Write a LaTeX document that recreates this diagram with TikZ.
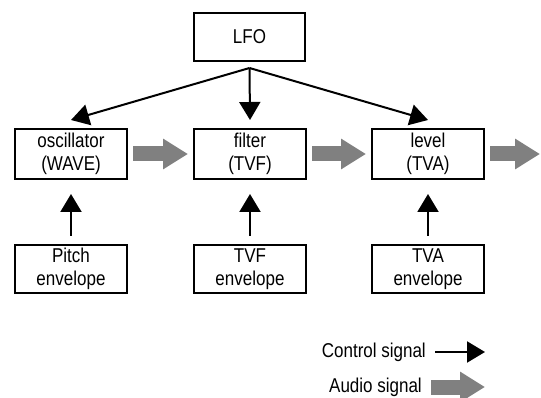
\documentclass[tikz,border=0pt]{standalone}
\usepackage{fontspec}
\setmainfont{Liberation Sans}[FakeStretch=0.85]
\usetikzlibrary{arrows.meta,positioning}
\definecolor{audiogray}{HTML}{808080}

\begin{document}
\begin{tikzpicture}[x=1pt, y=1pt,
    font=\fontsize{20}{23}\selectfont,
    blk/.style={draw=black, line width=2pt, fill=white, align=center,
      minimum width=112pt, minimum height=50pt, inner sep=2pt},
    env/.style={blk, minimum height=48pt},
    ctrl/.style={-{Triangle[length=18pt,width=21pt]}, line width=2pt},
    audio/.style={-{Triangle[length=25pt,width=29pt]}, line width=15pt, audiogray},
    legend/.style={anchor=east, inner sep=0pt}
  ]
    \useasboundingbox (0,0) rectangle (541,-398);
    % blocs
    \node[blk, minimum width=111pt, minimum height=48pt] (lfo) at (249.5,-37) {LFO};
    \node[blk] (osc) at (71,-154) {oscillator\\(WAVE)};
    \node[blk, right=65pt of osc] (filt) {filter\\(TVF)};
    \node[blk, right=64pt of filt] (lvl) {level\\(TVA)};
    \node[env, below=64pt of osc] (penv) {Pitch\\envelope};
    \node[env, below=64pt of filt] (fenv) {TVF\\envelope};
    \node[env, below=64pt of lvl] (aenv) {TVA\\envelope};
    % LFO
    \coordinate (split) at ([yshift=-6pt]lfo.south);
    \draw[ctrl] (split) -- ([yshift=8pt]osc.north);
    \draw[ctrl] (split) -- ([yshift=8pt]filt.north);
    \draw[ctrl] (split) -- ([yshift=8pt]lvl.north);
    % enveloppes
    \draw[ctrl] ([yshift=8pt]penv.north) -- ([yshift=-14pt]osc.south);
    \draw[ctrl] ([yshift=8pt]fenv.north) -- ([yshift=-14pt]filt.south);
    \draw[ctrl] ([yshift=8pt]aenv.north) -- ([yshift=-14pt]lvl.south);
    % audio
    \coordinate (out) at (540,-154);
    \draw[audio, shorten <=5pt, shorten >=5pt] (osc) -- (filt);
    \draw[audio, shorten <=5pt, shorten >=5pt] (filt) -- (lvl);
    \draw[audio, shorten <=5pt] (lvl) -- (out);
    % legende
    \node[legend] (ctltxt) at (426,-352) {Control signal};
    \coordinate (ctlend) at (485,-352);
    \draw[ctrl, shorten <=9pt] (ctltxt.east) -- (ctlend);
    \node[legend] (audtxt) at (422,-387) {Audio signal};
    \coordinate (audend) at (485,-387);
    \draw[audio, shorten <=9pt] (audtxt.east) -- (audend);
\end{tikzpicture}
\end{document}
